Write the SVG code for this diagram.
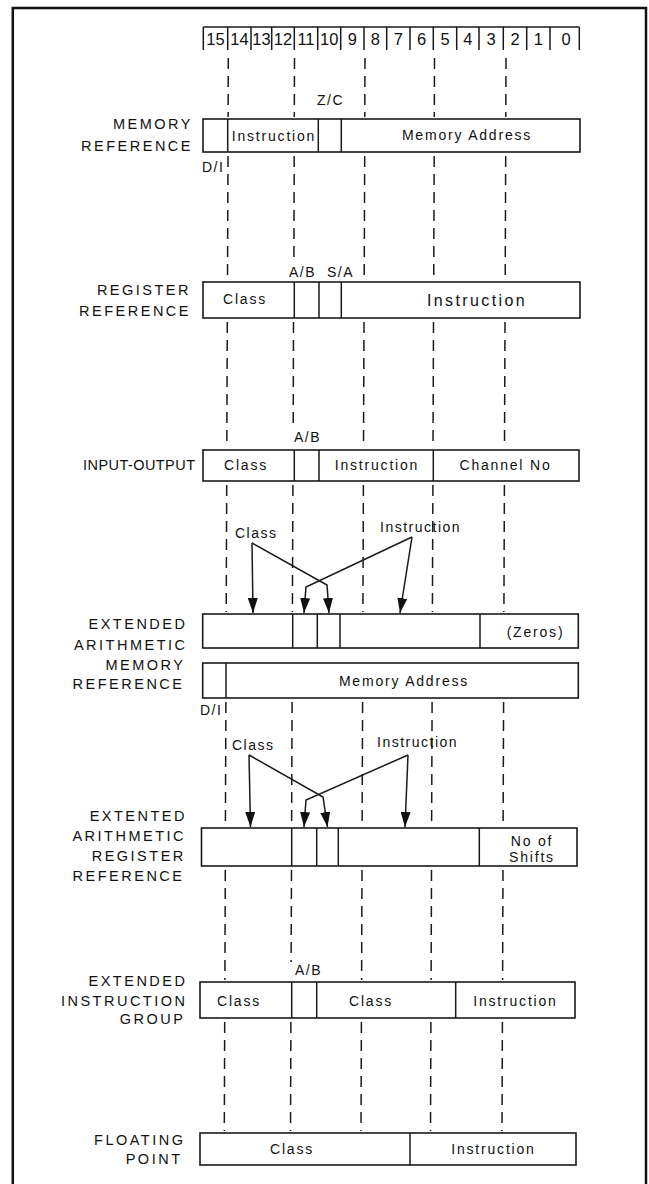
<svg xmlns="http://www.w3.org/2000/svg" width="649" height="1184" viewBox="0 0 649 1184">
<style>
text{font-family:"Liberation Sans",Arial,sans-serif;fill:#111}
.lbl{font-size:14.5px;letter-spacing:2.5px;text-anchor:end}
.t{font-size:14px;letter-spacing:1.8px;text-anchor:middle}
.s{font-size:14px;letter-spacing:1.5px}
.d{font-size:16.5px;text-anchor:middle}
.box{fill:#fff;stroke:#1a1a1a;stroke-width:1.6}
.sep{stroke:#1a1a1a;stroke-width:1.5;fill:none}
.dash{stroke:#1a1a1a;stroke-width:1.5;stroke-dasharray:11 7;fill:none}
.arr{stroke:#1a1a1a;stroke-width:1.5;fill:none;marker-end:url(#ah)}
.frame{stroke:#111;stroke-width:2.5;fill:none}
</style>
<defs>
<marker id="ah" viewBox="0 0 15 10" refX="15" refY="5" markerWidth="15" markerHeight="10" orient="auto" markerUnits="userSpaceOnUse"><path d="M0,0 L15,5 L0,10 z" fill="#111"/></marker>
</defs>
<rect width="649" height="1184" fill="#fff"/>
<path class="frame" d="M12.8,1184 V8 H646 V1184"/>

<g id="header">
<path class="sep" d="M203.3,27 H579.3 M203.3,27 V50 M227.7,27 V50 M251,27 V50 M271.7,27 V50 M294.3,27 V50 M317.7,27 V50 M340.7,27 V50 M364,27 V50 M386.7,27 V50 M410,27 V50 M433.3,27 V50 M456.7,27 V50 M479,27 V50 M503.3,27 V50 M526.7,27 V50 M550,27 V50 M579.3,27 V50"/>
<text class="d" x="215.5" y="45">15</text>
<text class="d" x="239.4" y="45">14</text>
<text class="d" x="261.4" y="45">13</text>
<text class="d" x="283" y="45">12</text>
<text class="d" x="306" y="45">11</text>
<text class="d" x="329.2" y="45">10</text>
<text class="d" x="352.4" y="45">9</text>
<text class="d" x="375.4" y="45">8</text>
<text class="d" x="398.4" y="45">7</text>
<text class="d" x="421.7" y="45">6</text>
<text class="d" x="445" y="45">5</text>
<text class="d" x="467.9" y="45">4</text>
<text class="d" x="491.2" y="45">3</text>
<text class="d" x="515" y="45">2</text>
<text class="d" x="538.4" y="45">1</text>
<text class="d" x="566" y="45">0</text>
</g>

<g id="connectors">
<path class="dash" d="M228.3,58 L228.1,117 M228,156 L227.5,280 M227.3,322 L226.8,448 M226.7,485 L226.2,612 M225.9,702 L225.4,826 M225.3,870 L224.9,980 M224.7,1022 L224.3,1131"/>
<path class="dash" d="M294.5,58 L294.3,117 M294.2,156 L293.9,262 M293.5,322 L293.2,428 M292.9,485 L292.4,612 M292.1,702 L291.6,826 M291.5,870 L291.1,962 M290.9,1022 L290.5,1131"/>
<path class="dash" d="M365,58 L364.8,117 M364.7,156 L364.2,280 M364,322 L363.5,448 M363.4,485 L362.9,612 M362.6,702 L362.1,826 M362,870 L361.6,980 M361.4,1022 L361,1131"/>
<path class="dash" d="M434.5,58 L434.3,117 M434.2,156 L433.7,280 M433.5,322 L433,448 M432.9,485 L432.4,612 M432.1,702 L431.6,826 M431.5,870 L431.1,980 M430.9,1022 L430.5,1131"/>
<path class="dash" d="M506,58 L505.8,117 M505.7,156 L505.2,280 M505,322 L504.5,448 M504.4,485 L503.9,612 M503.6,702 L503.1,826 M503,870 L502.6,980 M502.4,1022 L502,1131"/>
<path class="arr" d="M252,543 L253,613"/>
<path class="arr" d="M252,543 L327,585 L329,613"/>
<path class="arr" d="M412,537 L306,587 L304,613"/>
<path class="arr" d="M412,537 L400,613"/>
<path class="arr" d="M249,755 L250.5,827"/>
<path class="arr" d="M249,755 L323,797 L327.5,827"/>
<path class="arr" d="M408,755 L306,800 L304,827"/>
<path class="arr" d="M408,755 L405,827"/>
<text class="s" x="235" y="538">Class</text>
<text class="s" x="380" y="532">Instruction</text>
<text class="s" x="232" y="750">Class</text>
<text class="s" x="377" y="747">Instruction</text>
</g>

<g id="memory-reference">
<text class="lbl" x="193" y="129">MEMORY</text>
<text class="lbl" x="193" y="151">REFERENCE</text>
<rect class="box" x="203" y="119" width="377" height="33"/>
<path class="sep" d="M227.7,119 V152 M318.3,119 V152 M341.3,119 V152"/>
<text class="t" x="274" y="141">Instruction</text>
<text class="t" x="467" y="140">Memory Address</text>
<text class="s" x="317" y="105">Z/C</text>
<text class="s" x="202" y="172">D/I</text>
</g>

<g id="register-reference">
<text class="lbl" x="191" y="295">REGISTER</text>
<text class="lbl" x="191" y="316">REFERENCE</text>
<rect class="box" x="203" y="282" width="377" height="36"/>
<path class="sep" d="M294.3,282 V318 M319,282 V318 M341.3,282 V318"/>
<text class="t" x="245" y="304">Class</text>
<text class="t" x="477" y="306" style="font-size:16px;letter-spacing:2.4px">Instruction</text>
<text class="s" x="289" y="277">A/B</text>
<text class="s" x="327" y="277">S/A</text>
</g>

<g id="input-output">
<text x="195" y="470" style="font-size:14.5px;text-anchor:end" textLength="112" lengthAdjust="spacing">INPUT-OUTPUT</text>
<rect class="box" x="203" y="450" width="376" height="31"/>
<path class="sep" d="M294.3,450 V481 M319,450 V481 M433.3,450 V481"/>
<text class="t" x="246" y="470">Class</text>
<text class="t" x="377" y="470">Instruction</text>
<text class="t" x="505.5" y="470">Channel No</text>
<text class="s" x="294" y="442">A/B</text>
</g>

<g id="extended-arithmetic-memory-reference">
<text class="lbl" x="187.5" y="629">EXTENDED</text>
<text class="lbl" x="187.5" y="650">ARITHMETIC</text>
<text class="lbl" x="185.5" y="670">MEMORY</text>
<text class="lbl" x="184.5" y="689">REFERENCE</text>
<rect class="box" x="202.7" y="614" width="375.6" height="34"/>
<path class="sep" d="M292.7,614 V648 M317.3,614 V648 M340,614 V648 M480,614 V648"/>
<text class="t" x="535.5" y="637">(Zeros)</text>
<rect class="box" x="202.7" y="663" width="375.6" height="35"/>
<path class="sep" d="M226,663 V698"/>
<text class="t" x="404" y="686">Memory Address</text>
<text class="s" x="200" y="715">D/I</text>
</g>

<g id="extended-arithmetic-register-reference">
<text class="lbl" x="187" y="821">EXTENTED</text>
<text class="lbl" x="186" y="841">ARITHMETIC</text>
<text class="lbl" x="185.8" y="861">REGISTER</text>
<text class="lbl" x="184.5" y="881">REFERENCE</text>
<rect class="box" x="201.5" y="828" width="375.5" height="38"/>
<path class="sep" d="M291.7,828 V866 M316.7,828 V866 M338.3,828 V866 M479.3,828 V866"/>
<text class="t" x="532" y="846">No of</text>
<text class="t" x="532" y="862">Shifts</text>
</g>

<g id="extended-instruction-group">
<text class="lbl" x="187.5" y="986">EXTENDED</text>
<text class="lbl" x="187.5" y="1006">INSTRUCTION</text>
<text class="lbl" x="185.5" y="1024">GROUP</text>
<rect class="box" x="200" y="982" width="375" height="36"/>
<path class="sep" d="M291.7,982 V1018 M316.7,982 V1018 M455.7,982 V1018"/>
<text class="t" x="239" y="1006">Class</text>
<text class="t" x="371" y="1006">Class</text>
<text class="t" x="515.5" y="1006">Instruction</text>
<text class="s" x="295" y="975">A/B</text>
</g>

<g id="floating-point">
<text class="lbl" x="185.5" y="1145">FLOATING</text>
<text class="lbl" x="182.5" y="1164">POINT</text>
<rect class="box" x="200" y="1133" width="376" height="32"/>
<path class="sep" d="M410,1133 V1165"/>
<text class="t" x="292" y="1154">Class</text>
<text class="t" x="493.5" y="1154">Instruction</text>
</g>
</svg>
